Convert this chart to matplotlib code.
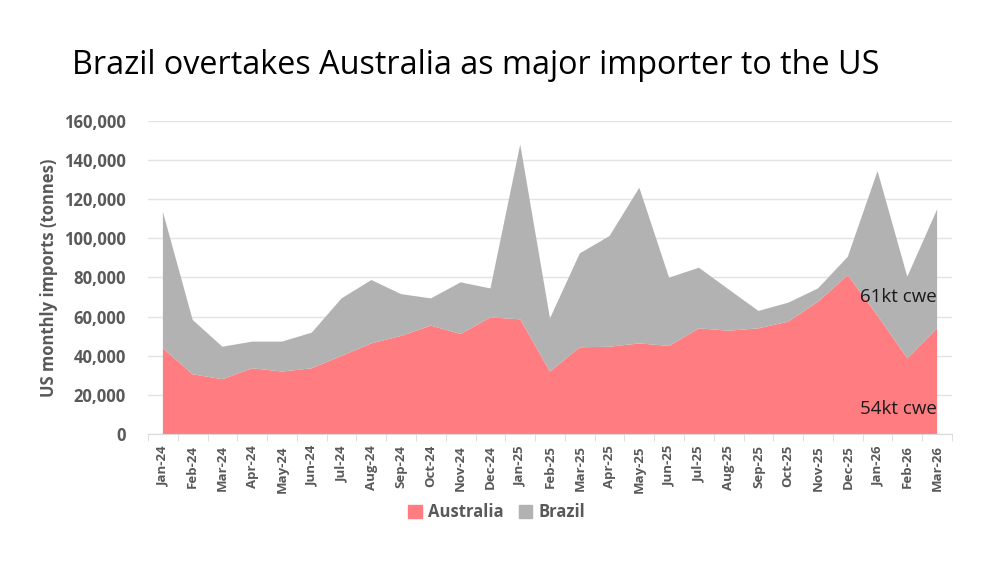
import numpy as np
import matplotlib.pyplot as plt
from matplotlib.patches import Patch
from matplotlib.ticker import FuncFormatter, FixedLocator

months = ["Jan-24", "Feb-24", "Mar-24", "Apr-24", "May-24", "Jun-24", "Jul-24",
          "Aug-24", "Sep-24", "Oct-24", "Nov-24", "Dec-24", "Jan-25", "Feb-25",
          "Mar-25", "Apr-25", "May-25", "Jun-25", "Jul-25", "Aug-25", "Sep-25",
          "Oct-25", "Nov-25", "Dec-25", "Jan-26", "Feb-26", "Mar-26"]

australia = [43800, 30500, 28000, 33600, 31900, 33600, 39900, 46300, 50100,
             55400, 51100, 59600, 58600, 31900, 44300, 44600, 46300, 45000,
             54000, 52800, 54000, 57400, 67600, 81200, 60500, 38700, 54000]

total = [113600, 58300, 44600, 47200, 47200, 51800, 69300, 78700, 71500,
         69300, 77500, 74400, 148000, 59100, 92300, 101200, 125900, 79900,
         85000, 73900, 62900, 67100, 74400, 90600, 134400, 80400, 114800]

brazil = [t - a for t, a in zip(total, australia)]

aus_color = '#FF7C80'
bra_color = '#B2B2B2'
text_gray = '#595959'

plt.rcParams['font.family'] = ['Open Sans', 'DejaVu Sans']

fig = plt.figure(figsize=(10, 5.68), dpi=100)
ax = fig.add_axes([0.148, 0.236, 0.804, 0.551])

x = np.arange(len(months))
ax.stackplot(x, australia, brazil, colors=[aus_color, bra_color], linewidth=0)

ax.set_xlim(-0.5, len(months) - 0.5)
ax.set_ylim(0, 160000)
ax.set_yticks(np.arange(0, 160001, 20000))
ax.yaxis.set_major_formatter(FuncFormatter(lambda v, p: f"{int(v):,}"))
ax.grid(axis='y', color='#E3E3E3', linewidth=1)
ax.set_axisbelow(True)

for s in ['top', 'right', 'left']:
    ax.spines[s].set_visible(False)
ax.spines['bottom'].set_color('#D9D9D9')

ax.tick_params(axis='y', length=0, pad=16, labelsize=12, labelcolor=text_gray)
for lbl in ax.get_yticklabels():
    lbl.set_fontweight('bold')

ax.set_xticks(x)
ax.set_xticklabels(months, rotation=90, fontsize=9.5, color=text_gray, fontweight='bold')
ax.tick_params(axis='x', which='major', length=0, pad=8)
ax.xaxis.set_minor_locator(FixedLocator(np.arange(-0.5, len(months), 1)))
ax.tick_params(axis='x', which='minor', length=5, color='#D9D9D9')

ax.set_ylabel('US monthly imports (tonnes)', fontsize=12, color=text_gray,
              fontweight='bold', labelpad=4)

ax.text(26, 70000, '61kt cwe', ha='right', va='center', fontsize=13.5, color='#1a1a1a')
ax.text(26, 12800, '54kt cwe', ha='right', va='center', fontsize=13.5, color='#1a1a1a')

fig.text(0.072, 0.885, 'Brazil overtakes Australia as major importer to the US',
         fontsize=23.3, color='black', va='center', ha='left')

handles = [Patch(color=aus_color, label='Australia'), Patch(color=bra_color, label='Brazil')]
leg = fig.legend(handles=handles, loc='center', bbox_to_anchor=(0.497, 0.098), ncol=2,
                 frameon=False, handlelength=0.8, handleheight=0.8, handletextpad=0.4,
                 columnspacing=0.9, prop={'weight': 'bold', 'size': 12})
for t in leg.get_texts():
    t.set_color(text_gray)

fig.savefig('out.png', dpi=100)
